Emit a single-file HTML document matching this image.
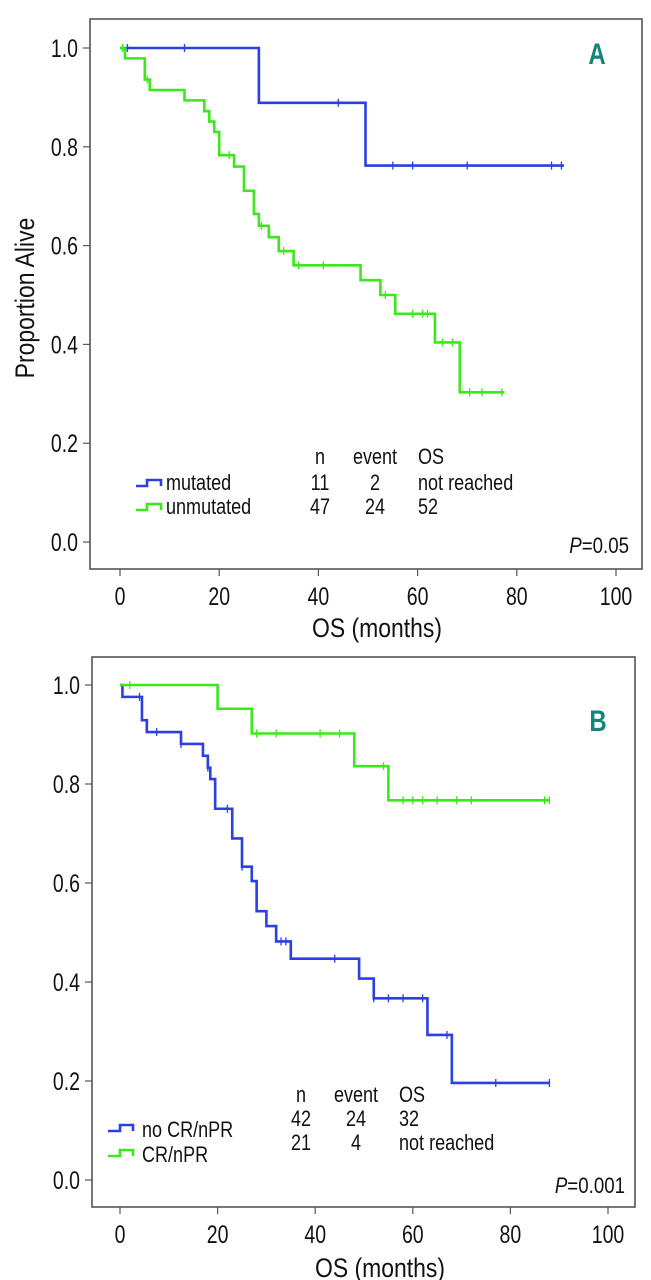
<!DOCTYPE html>
<html><head><meta charset="utf-8"><style>
html,body{margin:0;padding:0;background:#fff;}
svg{display:block;font-family:"Liberation Sans",sans-serif;}
</style></head><body>
<svg id="fig" width="651" height="1280" viewBox="0 0 651 1280"></svg>
<script>
// Panel A data
const aMutT=[0,28,49.5];const aMutS=[1.0,0.889,0.762];const aMutEnd=89.5;
const aMutCens=[1.5,13,44,55,59,70,87,89];
const aUnS=[1.0,0.979,0.936,0.915,0.894,0.872,0.851,0.830,0.783,0.76,0.711,0.664,0.64,0.617,0.589,0.56,0.53,0.50,0.462,0.404,0.303];
const aUnT2=[0,1,5,6,13,17,18,19,20,23,25,27,28,30,32,35,48.5,52.5,55.5,63.5,68.5];
const aUnEnd=77.5;
const aUnCens=[0.5,5.5,22,28.5,33,36,41,53.5,59,61,62,65,67,70.5,73,77];
// Panel B data
const bNoT=[0,0.5,4.5,5.5,12.5,17,18,18.5,19.5,23,25,27,28,30,32,35,49,52,63,68];
const bNoS=[1.0,0.976,0.929,0.905,0.881,0.857,0.833,0.81,0.75,0.69,0.633,0.604,0.543,0.513,0.482,0.447,0.407,0.367,0.293,0.196];
const bNoEnd=88;
const bNoCens=[4,7.5,12.5,18,22,25,33,34,44,52,55,58,62,67,77,88];
const bCrT=[0,20,27,48,55];const bCrS=[1.0,0.952,0.902,0.836,0.767];const bCrEnd=88;
const bCrCens=[2,28,32,41,45,54,58,60,62,65,69,72,87,88];
const xTicks=[0,20,40,60,80,100];
const yTicks=[0,0.2,0.4,0.6,0.8,1.0];
const BLUE="#2b3fe3",GREEN="#3be81c",TEAL="#13857c";
const svg=document.getElementById('fig');
const NS="http://www.w3.org/2000/svg";
function mk(tag,attrs,parent){const e=document.createElementNS(NS,tag);for(const k in attrs)e.setAttribute(k,attrs[k]);(parent||svg).appendChild(e);return e;}
function txt(s,x,y,size,anchor,sx,parent,extra){const e=mk('text',Object.assign({transform:`translate(${x},${y}) scale(${sx},1)`,'font-size':size,'text-anchor':anchor||'start',fill:'#111'},extra||{}),parent);e.textContent=s;return e;}
function ptxt(val,x,y,parent){const e=mk('text',{transform:`translate(${x},${y}) scale(0.85,1)`,'font-size':22,'text-anchor':'end',fill:'#111'},parent);
  const a=mk('tspan',{'font-style':'italic'},e);a.textContent='P';const b=mk('tspan',{},e);b.textContent='='+val;return e;}
function survVal(T,S,t){let v=S[0];for(let i=0;i<T.length;i++){if(t>=T[i])v=S[i];}return v;}
function panel(o){
  const g=mk('g',{});
  
  
  const X=v=>o.x0+(o.x100-o.x0)*v/100, Y=v=>o.y0+(o.y1-o.y0)*v;
  const fr=mk('rect',{x:o.L,y:o.T,width:o.R-o.L,height:o.B-o.T,fill:'none',stroke:'#555','stroke-width':1.6},g);
  
  yTicks.forEach(v=>{mk('line',{x1:o.L-7,x2:o.L,y1:Y(v),y2:Y(v),stroke:'#555','stroke-width':1.2},g);
    const t=txt(v.toFixed(1),o.L-12,Y(v)+9,25,'end',0.78,g);});
  xTicks.forEach(v=>{mk('line',{x1:X(v),x2:X(v),y1:o.B,y2:o.B+7,stroke:'#555','stroke-width':1.2},g);
    const t=txt(String(v),X(v),o.xlY,25,'middle',0.78,g);});
  const xt=txt('OS (months)',o.xtX,o.xtY,27,'middle',0.85,g);
  o.series.forEach(s=>{
    let d=`M${X(s.T[0])},${Y(s.S[0])}`;
    for(let i=1;i<s.T.length;i++){d+=`H${X(s.T[i])}V${Y(s.S[i])}`;}
    d+=`H${X(s.end)}`;
    const p=mk('path',{d:d,fill:'none',stroke:s.c,'stroke-width':2.6},g);
    
    s.cens.forEach(c=>{const v=survVal(s.T,s.S,c);const l=mk('line',{x1:X(c),x2:X(c),y1:Y(v)-4,y2:Y(v)+4,stroke:s.c,'stroke-width':1.3},g);
      });
  });
  return {g,X,Y};
}
// Panel A
const A=panel({name:'panel-a',L:90,R:642,T:19,B:569,x0:120,x100:616,y0:542,y1:48,xlY:605,xtX:377,xtY:637,
  series:[{name:'mutated',T:aMutT,S:aMutS,end:aMutEnd,cens:aMutCens,c:BLUE},
          {name:'unmutated',T:aUnT2,S:aUnS,end:aUnEnd,cens:aUnCens,c:GREEN}]});
let t;
t=txt('Proportion Alive',0,0,27,'middle',1,A.g,{transform:'translate(34,298) rotate(-90) scale(0.85,1)'});
t=txt('A',597,64,30,'middle',0.8,A.g,{fill:TEAL,'font-weight':'bold'});
t=ptxt('0.05',629,553,A.g);
[['n',320,'middle'],['event',375,'middle'],['OS',418,'start']].forEach(h=>{t=txt(h[0],h[1],464,22,h[2],0.82,A.g);});
[[BLUE,'mutated','11','2','not reached',490],[GREEN,'unmutated','47','24','52',514]].forEach(r=>{
  const l=mk('path',{d:`M136,${r[5]-4}H147V${r[5]-10}H161V${r[5]-4}`,fill:'none',stroke:r[0],'stroke-width':2.6},A.g);
  
  t=txt(r[1],166,r[5],22,'start',0.82,A.g);
  t=txt(r[2],320,r[5],22,'middle',0.82,A.g);
  t=txt(r[3],375,r[5],22,'middle',0.82,A.g);
  t=txt(r[4],418,r[5],22,'start',0.82,A.g);
});
// Panel B
const B=panel({name:'panel-b',L:92,R:635,T:657,B:1207,x0:120,x100:608,y0:1180,y1:685,xlY:1243,xtX:380,xtY:1277,
  series:[{name:'no-cr-npr',T:bNoT,S:bNoS,end:bNoEnd,cens:bNoCens,c:BLUE},
          {name:'cr-npr',T:bCrT,S:bCrS,end:bCrEnd,cens:bCrCens,c:GREEN}]});
t=txt('B',598,731,30,'middle',0.8,B.g,{fill:TEAL,'font-weight':'bold'});
t=ptxt('0.001',625,1193,B.g);
[['n',301,'middle'],['event',356,'middle'],['OS',399,'start']].forEach(h=>{t=txt(h[0],h[1],1102,22,h[2],0.82,B.g);});
[['42','24','32',1126],['21','4','not reached',1150]].forEach(r=>{
  t=txt(r[0],301,r[3],22,'middle',0.82,B.g);
  t=txt(r[1],356,r[3],22,'middle',0.82,B.g);
  t=txt(r[2],399,r[3],22,'start',0.82,B.g);
});
[[BLUE,'no CR/nPR',1137],[GREEN,'CR/nPR',1162]].forEach(r=>{
  const l=mk('path',{d:`M108,${r[2]-6}H120V${r[2]-12}H133V${r[2]-6}`,fill:'none',stroke:r[0],'stroke-width':2.6},B.g);
  
  t=txt(r[1],142,r[2],22,'start',0.82,B.g);
});
</script>
</body></html>
